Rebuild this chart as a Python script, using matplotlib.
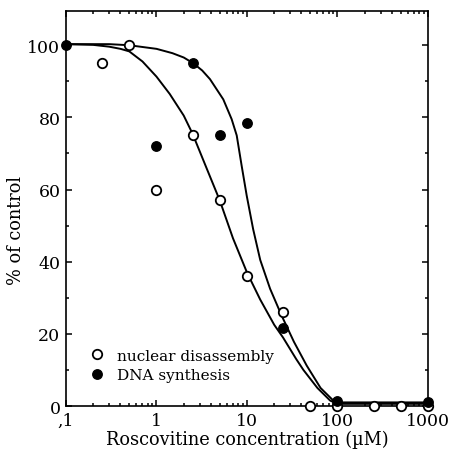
import matplotlib
matplotlib.use('Agg')
import matplotlib.pyplot as plt
from matplotlib.ticker import FixedLocator, LogLocator, NullFormatter, MultipleLocator

plt.rcParams['font.family'] = ['DejaVu Serif']

nuc_x = [0.25, 0.5, 1, 2.5, 5, 10, 25, 50, 100, 250, 500, 1000]
nuc_y = [95, 100, 60, 75, 57, 36, 26, 0, 0, 0, 0, 0]
dna_x = [0.1, 1, 2.5, 5, 10, 25, 100, 1000]
dna_y = [100, 72, 95, 75, 78.5, 21.5, 1.4, 1]

# fitted curves
nuc_fit_x = [0.1, 0.2, 0.3, 0.4, 0.5, 0.7, 1.0, 1.4, 2.0, 2.5, 3.5, 5, 7, 10,
             14, 20, 25, 35, 42, 60, 83, 100, 1000]
nuc_fit_y = [100.3, 100.1, 99.6, 99, 98.3, 95.5, 91.3, 86.5, 80.5, 75.5, 66.5, 57, 46.5, 37,
             29.5, 22.5, 19, 13, 10, 5, 1.5, 0.6, 0.6]
dna_fit_x = [0.1, 0.3, 0.5, 1.0, 1.5, 2.0, 2.55, 3.2, 3.9, 5.47, 6.77, 7.7, 8.73, 9.93,
             11.7, 14, 18, 24.2, 33, 45.7, 65, 90, 100, 1000]
dna_fit_y = [100.3, 100.3, 100, 99, 97.8, 96.6, 95, 93, 90.6, 85, 79.5, 75, 66.6, 58.3,
             49, 40.5, 32.5, 25, 17.8, 11.2, 5, 1.5, 1, 1]

xticks = [0.1, 1, 10, 100, 1000]
xticklabels = [',1', '1', '10', '100', '1000']
yticks = [0, 20, 40, 60, 80, 100]

fig = plt.figure(figsize=(4.51, 4.60), dpi=100)
ax = fig.add_axes([0.1463, 0.1152, 0.8027, 0.8588])

ax.plot(nuc_fit_x, nuc_fit_y, color='black', lw=1.4, zorder=2)
ax.plot(dna_fit_x, dna_fit_y, color='black', lw=1.4, zorder=2)
ax.plot(nuc_x, nuc_y, 'o', ms=6.8, mfc='white', mec='black', mew=1.3,
        label='nuclear disassembly', clip_on=False, zorder=3)
ax.plot(dna_x, dna_y, 'o', ms=6.8, mfc='black', mec='black', mew=1.0,
        label='DNA synthesis', clip_on=False, zorder=3)

ax.set_xscale('log')
ax.set_xlim(0.1, 1000)
ax.set_ylim(0, 109.5)
ax.xaxis.set_major_locator(FixedLocator(xticks))
ax.set_xticklabels(xticklabels)
ax.xaxis.set_minor_locator(LogLocator(base=10, subs=range(2, 10), numticks=20))
ax.xaxis.set_minor_formatter(NullFormatter())
ax.set_yticks(yticks)
ax.yaxis.set_minor_locator(MultipleLocator(10))

ax.tick_params(which='both', direction='in', top=True, right=True, labelsize=12.5, width=1.1)
ax.tick_params(which='major', length=4.5, pad=4)
ax.tick_params(which='minor', length=2.5)
for s in ax.spines.values():
    s.set_linewidth(1.2)

ax.set_xlabel('Roscovitine concentration (\u00b5M)', fontsize=12.8, labelpad=1)
ax.set_ylabel('% of control', fontsize=12.8)
ax.yaxis.set_label_coords(-0.113, 0.448)

ax.legend(loc='lower left', bbox_to_anchor=(0.044, 0.045), frameon=False, fontsize=11,
          handletextpad=0.7, labelspacing=0.36, handlelength=1.2, borderaxespad=0)

fig.savefig('out.png', dpi=100)
